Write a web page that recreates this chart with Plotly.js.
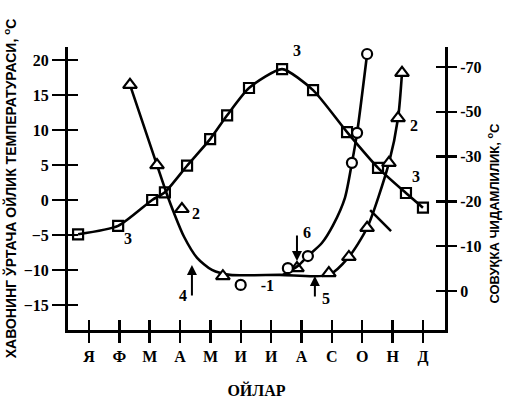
<!DOCTYPE html>
<html>
<head>
<meta charset="utf-8">
<script src="https://cdn.plot.ly/plotly-3.0.1.min.js"></script>
<style>html,body{margin:0;padding:0;background:#fff;}#chart{width:507px;height:402px;}</style>
</head>
<body>
<div id="chart"></div>
<script>
// Month ticks
const monthPos = [1,2,3,4,5,6,7,8,9,10,11,12];
const monthLabels = ['Я','Ф','М','А','М','И','И','А','С','О','Н','Д'];

// Curve 3: mean monthly air temperature (left axis, °C)
const airX = [0.64,1.96,3.08,3.50,4.23,4.99,5.55,6.27,7.36,8.38,9.50,10.52,11.44,12.00];
const airT = [-4.9,-3.7,0.0,1.1,4.9,8.7,12.1,16.0,18.7,15.7,9.7,4.6,1.0,-1.1];

// Curve 2: cold hardiness (right axis, tick-position units)
const hard2LineX = [2.35,3.24,3.54,3.80,4.13,4.56,5.05,5.64,7.29,8.91,9.56,10.16,10.88,11.18,11.31];
const hard2LineY = [-46.0,-28.1,-22.1,-17.4,-12.1,-7.4,-4.7,-3.6,-3.6,-3.6,-7.6,-14.1,-28.6,-38.6,-48.7];
const hard2PtsX = [2.35,3.24,4.06,5.41,7.85,8.90,9.56,10.16,10.88,11.18,11.31];
const hard2PtsY = [-46.0,-28.1,-18.3,-3.3,-5.1,-4.0,-7.6,-14.1,-28.6,-38.6,-48.7];

// Curve 1: cold hardiness (right axis)
const hard1LineX = [7.39,7.88,8.21,8.67,9.04,9.43,9.66,9.83,10.16];
const hard1LineY = [-3.6,-5.6,-7.8,-10.7,-14.7,-20.8,-28.6,-35.3,-52.9];
const hard1PtsX = [7.55,8.21,9.66,9.83,10.16];
const hard1PtsY = [-5.1,-7.8,-28.6,-35.3,-52.9];

// Axis ticks
const leftTicks = [-15,-10,-5,0,5,10,15,20];
const rightTickVals = [0,-10,-20,-30,-40,-50];
const rightTickText = ['0','-10','-20','-30','-50','-70'];

const serif = {family:'Liberation Serif, Times New Roman, serif', size:16, color:'#000', weight:'bold'};
const sans = {family:'Liberation Sans, Arial, sans-serif', size:14, color:'#000', weight:'bold'};
const sansR = {family:'Liberation Sans, Arial, sans-serif', size:13, color:'#000', weight:'bold'};

const xr = [0.308, 12.726];
const yr = [-18.57, 21.86];
const y2r = [8.71, -54.46];

const traces = [
  {x: airX, y: airT, mode:'lines', line:{color:'#000', width:2.6, shape:'spline', smoothing:0.6}, showlegend:false, hoverinfo:'skip'},
  {x: airX, y: airT, mode:'markers', marker:{symbol:'square-open', size:10, color:'#000', line:{width:2.2, color:'#000'}}, showlegend:false, cliponaxis:false},
  {x: hard2LineX, y: hard2LineY, yaxis:'y2', mode:'lines', line:{color:'#000', width:2.6, shape:'spline', smoothing:0.7}, showlegend:false, hoverinfo:'skip'},
  {x: hard2PtsX, y: hard2PtsY, yaxis:'y2', mode:'markers', marker:{symbol:'triangle-up', size:12, color:'#fff', line:{width:2.2, color:'#000'}}, showlegend:false, cliponaxis:false},
  {x: hard1LineX, y: hard1LineY, yaxis:'y2', mode:'lines', line:{color:'#000', width:2.6, shape:'spline', smoothing:0.7}, showlegend:false, hoverinfo:'skip'},
  {x: hard1PtsX, y: hard1PtsY, yaxis:'y2', mode:'markers', name:'-1', marker:{symbol:'circle', size:10, color:'#fff', line:{width:2.2, color:'#000'}}, showlegend:true, cliponaxis:false},
  {x: [], y: [], xaxis:'x3', yaxis:'y3', showlegend:false},
  {x: [], y: [], xaxis:'x3', yaxis:'y4', showlegend:false}
];

function lbl(x, y, t){ return {x:x, y:y, xref:'x', yref:'y', text:t, showarrow:false, font:serif}; }
function arrow(x, y, ay){ return {x:x, y:y, xref:'x', yref:'y', text:'', showarrow:true, arrowhead:2, arrowsize:1, arrowwidth:2, arrowcolor:'#000', ax:0, ay:ay}; }

const layout = {
  width:507, height:402,
  margin:{l:68, r:62, t:47, b:72},
  paper_bgcolor:'#fff', plot_bgcolor:'#fff',
  showlegend:true,
  legend:{x:0.405, y:0.159, xanchor:'left', yanchor:'middle', bgcolor:'rgba(0,0,0,0)', font:serif, itemwidth:30},
  xaxis:{range:xr, tickvals:monthPos, ticktext:monthLabels, tickfont:serif, ticks:'outside', ticklen:10, tickwidth:2.5, tickcolor:'#000',
    showline:true, linewidth:3, linecolor:'#000', showgrid:false, zeroline:false, fixedrange:true,
    title:{text:'ОЙЛАР', font:serif, standoff:20}},
  xaxis3:{range:xr, overlaying:'x', anchor:'y', side:'bottom', tickvals:monthPos, ticks:'inside', ticklen:10, tickwidth:2.5, tickcolor:'#000',
    showticklabels:false, showline:false, showgrid:false, zeroline:false},
  yaxis:{range:yr, tickvals:leftTicks, tickfont:serif, ticks:'outside', ticklen:13, tickwidth:2.5, tickcolor:'#000',
    showline:true, linewidth:3, linecolor:'#000', showgrid:false, zeroline:false, fixedrange:true,
    title:{text:'ХАВОНИНГ ЎРТАЧА ОЙЛИК ТЕМПЕРАТУРАСИ, <sup>о</sup>С', font:sans, standoff:4}},
  yaxis3:{range:yr, overlaying:'y', anchor:'x', side:'left', tickvals:leftTicks, ticks:'inside', ticklen:10, tickwidth:2.5, tickcolor:'#000',
    showticklabels:false, showline:false, showgrid:false, zeroline:false},
  yaxis2:{range:y2r, overlaying:'y', side:'right', anchor:'x', tickvals:rightTickVals, ticktext:rightTickText, tickfont:serif,
    ticks:'outside', ticklen:9, tickwidth:2.5, tickcolor:'#000', showline:true, linewidth:3, linecolor:'#000', showgrid:false, zeroline:false},
  yaxis4:{range:y2r, overlaying:'y', side:'right', anchor:'x', tickvals:rightTickVals, ticks:'inside', ticklen:9, tickwidth:2.5, tickcolor:'#000',
    showticklabels:false, showline:false, showgrid:false, zeroline:false},
  shapes:[
    {type:'line', xref:'x', yref:'y', x0:10.26, y0:-1.43, x1:10.95, y1:-4.43, line:{color:'#000', width:2.5}}
  ],
  annotations:[
    lbl(7.85, 21.4, '3'),
    lbl(2.28, -5.43, '3'),
    lbl(11.77, 3.29, '3'),
    lbl(4.52, -1.86, '2'),
    lbl(11.70, 10.7, '2'),
    lbl(10.58, 22.9, '1'),
    lbl(4.10, -13.57, '4'),
    lbl(8.81, -14.0, '5'),
    lbl(8.18, -4.71, '6'),
    arrow(4.39, -9.29, 32),
    arrow(8.44, -10.86, 22),
    arrow(7.85, -8.71, -27),
    {x:1.155, y:0.413, xref:'paper', yref:'paper', text:'СОВУҚКА ЧИДАМЛИЛИК, <sup>о</sup>С', textangle:-90, showarrow:false, font:sansR}
  ]
};

Plotly.newPlot('chart', traces, layout, {displayModeBar:false, staticPlot:true});
</script>
</body>
</html>
